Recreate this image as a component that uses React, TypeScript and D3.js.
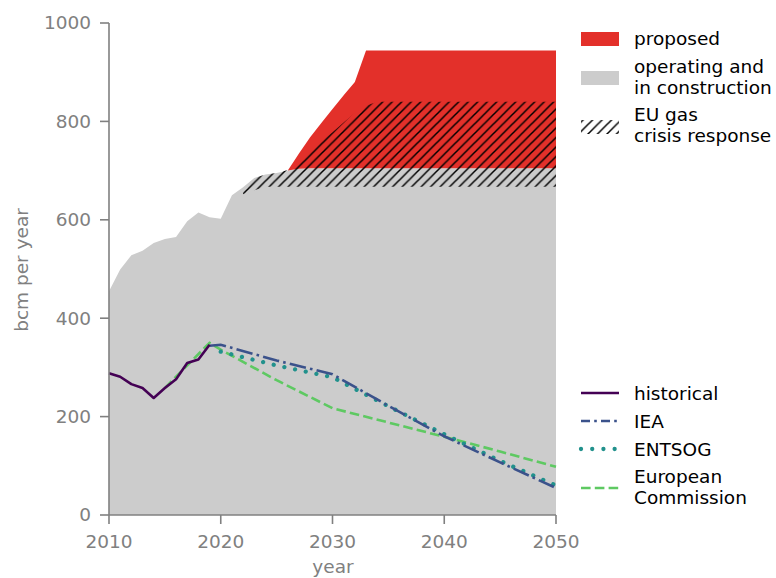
import React from "react";
import * as d3 from "d3";

// capacity (bcm per year)
const operatingYears = [2010, 2011, 2012, 2013, 2014, 2015, 2016, 2017, 2018, 2019, 2020, 2021, 2022, 2023, 2024, 2025, 2026, 2027, 2028, 2050];
const operatingValues = [455, 499, 528, 537, 553, 561, 565, 597, 615, 605, 602, 650, 666, 685, 692, 695, 700, 704, 705, 705];

const proposedYears = [2026, 2027, 2028, 2029, 2030, 2031, 2032, 2033, 2050];
const proposedValues = [700, 735, 768, 797, 825, 853, 880, 944, 944];

const crisisYears = [2022, 2023, 2024, 2025, 2026, 2027, 2028, 2029, 2030, 2031, 2032, 2033, 2034, 2050];
const crisisLower = [652, 660, 667, 667, 667, 667, 667, 667, 667, 667, 667, 667, 667, 667];
const crisisUpper = [666, 685, 692, 695, 701, 718, 740, 760, 778, 798, 817, 832, 840, 840];

// demand scenarios
const historicalYears = [2010, 2011, 2012, 2013, 2014, 2015, 2016, 2017, 2018, 2019];
const historicalValues = [288, 281, 266, 258, 238, 258, 276, 309, 316, 346];
const ieaYears = [2019, 2020, 2025, 2030, 2035, 2040, 2045, 2050];
const ieaValues = [344, 346, 314, 286, 222, 160, 107, 55];
const entsogYears = [2020, 2025, 2030, 2035, 2040, 2045, 2050];
const entsogValues = [332, 304, 280, 221, 164, 110, 60];
const ecYears = [2015, 2019, 2020, 2025, 2030, 2035, 2040, 2045, 2050];
const ecValues = [258, 350, 336, 274, 217, 188, 159, 129, 98];

const xTicks = [2010, 2020, 2030, 2040, 2050];
const yTicks = [0, 200, 400, 600, 800, 1000];

const W = 776;
const H = 578;
const FONT = "DejaVu Sans, sans-serif";
const GREY = "#808080";

const x = d3.scaleLinear([2010, 2050], [109, 556]);
const y = d3.scaleLinear([0, 1000], [515, 23]);

type P = { yr: number; lo: number; hi: number };

const zipLine = (ys: number[], vs: number[]) => ys.map((yr, i) => [yr, vs[i]] as [number, number]);

export default function App() {
  const area = d3
    .area<P>()
    .x((d) => x(d.yr))
    .y0((d) => y(d.lo))
    .y1((d) => y(d.hi));
  const line = d3
    .line<[number, number]>()
    .x((d) => x(d[0]))
    .y((d) => y(d[1]));

  const opData: P[] = operatingYears.map((yr, i) => ({ yr, lo: 0, hi: operatingValues[i] }));
  const opInterp = (yr: number) => {
    const i = d3.bisectLeft(operatingYears, yr);
    if (operatingYears[i] === yr) return operatingValues[i];
    const t = (yr - operatingYears[i - 1]) / (operatingYears[i] - operatingYears[i - 1]);
    return operatingValues[i - 1] + t * (operatingValues[i] - operatingValues[i - 1]);
  };
  const propData: P[] = proposedYears.map((yr, i) => ({ yr, lo: opInterp(yr), hi: proposedValues[i] }));
  const crisisData: P[] = crisisYears.map((yr, i) => ({ yr, lo: crisisLower[i], hi: crisisUpper[i] }));

  const lw = 2.6;
  const legX0 = 581;
  const legX1 = 619;
  const legT = 634;

  return (
    <svg width={W} height={H} style={{ position: "absolute", left: 0, top: 0 }} fontFamily={FONT}>
      <defs>
        <pattern id="hatch" patternUnits="userSpaceOnUse" width={9.5} height={9.5}>
          <path d="M-1,1 l2,-2 M0,9.5 l9.5,-9.5 M8.5,10.5 l2,-2" stroke="#000" strokeWidth={1.5} />
        </pattern>
      </defs>
      <rect width={W} height={H} fill="#fff" />

      <path d={area(opData) ?? ""} fill="#cccccc" />
      <path d={area(propData) ?? ""} fill="#e3302a" />
      <path d={area(crisisData) ?? ""} fill="url(#hatch)" />

      <path d={line(zipLine(ecYears, ecValues)) ?? ""} fill="none" stroke="#5ec962" strokeWidth={lw} strokeDasharray="9.6 4.2" />
      <path d={line(zipLine(entsogYears, entsogValues)) ?? ""} fill="none" stroke="#21918c" strokeWidth={4.3} strokeLinecap="round" strokeDasharray="0.01 10.9" />
      <path d={line(zipLine(ieaYears, ieaValues)) ?? ""} fill="none" stroke="#3b528b" strokeWidth={lw} strokeDasharray="16.6 4.2 2.6 4.2" />
      <path d={line(zipLine(historicalYears, historicalValues)) ?? ""} fill="none" stroke="#440154" strokeWidth={lw} strokeLinejoin="round" />

      {/* axes */}
      <g stroke={GREY} strokeWidth={1.6}>
        <line x1={109} x2={109} y1={23} y2={515} />
        <line x1={109} x2={556} y1={515} y2={515} />
        {yTicks.map((t) => (
          <line key={t} x1={100} x2={109} y1={y(t)} y2={y(t)} />
        ))}
        {xTicks.map((t) => (
          <line key={t} x1={x(t)} x2={x(t)} y1={515} y2={524} />
        ))}
      </g>
      <g fill={GREY} fontSize={18.5}>
        {yTicks.map((t) => (
          <text key={t} x={91} y={y(t)} dy="0.35em" textAnchor="end">
            {t}
          </text>
        ))}
        {xTicks.map((t) => (
          <text key={t} x={x(t)} y={548} textAnchor="middle">
            {t}
          </text>
        ))}
        <text x={333} y={573} textAnchor="middle">year</text>
        <text transform="translate(28,270) rotate(-90)" textAnchor="middle">bcm per year</text>
      </g>

      {/* legend */}
      <g fontSize={18.5} fill="#000">
        <rect x={legX0} y={32} width={legX1 - legX0} height={14} fill="#e3302a" />
        <text x={legT} y={45}>proposed</text>
        <rect x={legX0} y={71} width={legX1 - legX0} height={14} fill="#cccccc" />
        <text x={legT} y={73}>operating and</text>
        <text x={legT} y={94}>in construction</text>
        <rect x={legX0} y={120} width={legX1 - legX0} height={14} fill="url(#hatch)" />
        <text x={legT} y={121}>EU gas</text>
        <text x={legT} y={142}>crisis response</text>

        <line x1={legX0} x2={legX1} y1={393} y2={393} stroke="#440154" strokeWidth={lw} />
        <text x={legT} y={400}>historical</text>
        <line x1={legX0} x2={legX1} y1={421} y2={421} stroke="#3b528b" strokeWidth={lw} strokeDasharray="9 4.2 2.6 4.2" />
        <text x={legT} y={428}>IEA</text>
        <line x1={legX0} x2={legX1} y1={449} y2={449} stroke="#21918c" strokeWidth={4.3} strokeLinecap="round" strokeDasharray="0.01 11.2" />
        <text x={legT} y={456}>ENTSOG</text>
        <line x1={legX0} x2={legX1} y1={488} y2={488} stroke="#5ec962" strokeWidth={lw} strokeDasharray="9.6 4.2" />
        <text x={legT} y={483}>European</text>
        <text x={legT} y={504}>Commission</text>
      </g>
    </svg>
  );
}
